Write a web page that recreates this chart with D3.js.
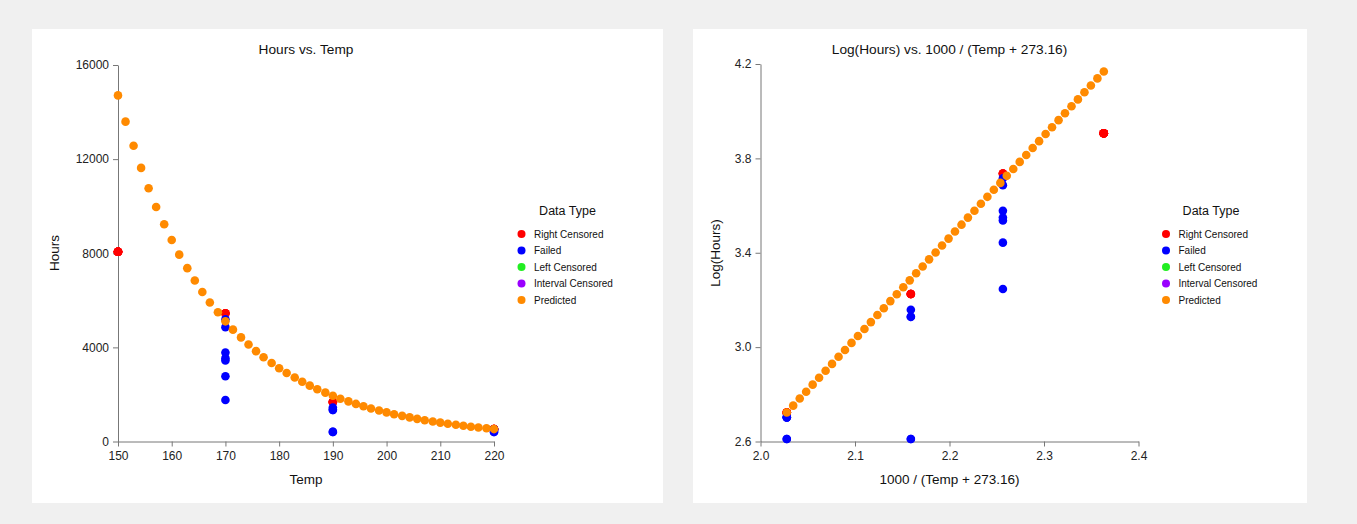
<!DOCTYPE html>
<html><head><meta charset="utf-8">
<script src="https://cdn.jsdelivr.net/npm/d3@7/dist/d3.min.js"></script>
<style>body{margin:0;background:#f0f0f0;}svg{display:block;font-family:"Liberation Sans",Arial,sans-serif;}</style>
</head><body>
<svg id="c" width="1357" height="524"></svg>
<script>
// ---------- data ----------
const rightCensoredTemp  = [150,150,150,150,150,150,150,150,150,150,170,170,170,190,190,190,190,190,220,220,220,220,220];
const rightCensoredHours = [8064,8064,8064,8064,8064,8064,8064,8064,8064,8064,5448,5448,5448,1680,1680,1680,1680,1680,528,528,528,528,528];
const failedTemp  = [170,170,170,170,170,170,170,190,190,190,190,190,220,220,220,220,220];
const failedHours = [1764,2772,3444,3542,3780,4860,5196,408,408,1344,1344,1440,408,408,504,504,504];
const predTemp = [150.0,151.4,152.9,154.3,155.7,157.1,158.6,160.0,161.4,162.9,164.3,165.7,167.1,168.6,170.0,171.4,172.9,174.3,175.7,177.1,178.6,180.0,181.4,182.9,184.3,185.7,187.1,188.6,190.0,191.4,192.9,194.3,195.7,197.1,198.6,200.0,201.4,202.9,204.3,205.7,207.1,208.6,210.0,211.4,212.9,214.3,215.7,217.1,218.6,220.0];
const predHours = [14708,13593,12570,11627,10762,9966,9235,8561,7940,7367,6839,6353,5904,5490,5107,4753,4424,4121,3840,3580,3339,3116,2909,2717,2538,2373,2219,2077,1944,1819,1704,1597,1497,1404,1317,1236,1160,1090,1024,962,905,851,801,754,710,669,630,594,560,528];
const rcInvTemp = [2.3632,2.3632,2.3632,2.3632,2.3632,2.3632,2.3632,2.3632,2.3632,2.3632,2.2565,2.2565,2.2565,2.1591,2.1591,2.1591,2.1591,2.1591,2.0278,2.0278,2.0278,2.0278,2.0278];
const rcLogHours = [3.9066,3.9066,3.9066,3.9066,3.9066,3.9066,3.9066,3.9066,3.9066,3.9066,3.7362,3.7362,3.7362,3.2253,3.2253,3.2253,3.2253,3.2253,2.7226,2.7226,2.7226,2.7226,2.7226];
const fInvTemp = [2.2565,2.2565,2.2565,2.2565,2.2565,2.2565,2.2565,2.1591,2.1591,2.1591,2.1591,2.1591,2.0278,2.0278,2.0278,2.0278,2.0278];
const fLogHours = [3.2465,3.4428,3.5370,3.5493,3.5775,3.6866,3.7157,2.6107,2.6107,3.1284,3.1284,3.1584,2.6107,2.6107,2.7024,2.7024,2.7024];
const predInvTemp = [2.0278,2.0346,2.0415,2.0483,2.0552,2.0620,2.0689,2.0757,2.0826,2.0894,2.0963,2.1031,2.1100,2.1168,2.1237,2.1305,2.1374,2.1442,2.1511,2.1579,2.1647,2.1716,2.1784,2.1853,2.1921,2.1990,2.2058,2.2127,2.2195,2.2264,2.2332,2.2401,2.2469,2.2538,2.2606,2.2675,2.2743,2.2812,2.2880,2.2948,2.3017,2.3085,2.3154,2.3222,2.3291,2.3359,2.3428,2.3496,2.3565,2.3633];
const predLogHours = [2.723,2.752,2.782,2.811,2.841,2.870,2.900,2.929,2.959,2.988,3.018,3.047,3.077,3.106,3.136,3.165,3.195,3.224,3.254,3.283,3.313,3.342,3.372,3.401,3.431,3.460,3.490,3.519,3.549,3.578,3.608,3.637,3.667,3.696,3.726,3.755,3.785,3.814,3.844,3.873,3.903,3.932,3.962,3.991,4.021,4.050,4.080,4.109,4.139,4.168];
const legendLabels = ["Right Censored","Failed","Left Censored","Interval Censored","Predicted"];
const legendColors = ["#ff0000","#0000ff","#22ee22","#9a00ff","#ff8a00"];
const leftXTicks = [150,160,170,180,190,200,210,220];
const leftYTicks = [0,4000,8000,12000,16000];
const rightXTicks = [2.0,2.1,2.2,2.3,2.4];
const rightYTicks = [2.6,3.0,3.4,3.8,4.2];

const svg = d3.select("#c");
const R = 4.3;

function panel(cfg){
  svg.append("rect").attr("x",cfg.px).attr("y",29).attr("width",cfg.pw).attr("height",474).attr("fill","#fff");
  const x = d3.scaleLinear().domain(cfg.xd).range(cfg.xr);
  const y = d3.scaleLinear().domain(cfg.yd).range(cfg.yr);
  const g = svg.append("g");
  const xa = g.append("g").attr("transform",`translate(0,${cfg.yr[0]})`)
    .call(d3.axisBottom(x).tickValues(cfg.xt).tickFormat(cfg.xf).tickSize(5).tickSizeOuter(0));
  const ya = g.append("g").attr("transform",`translate(${cfg.xr[0]},0)`)
    .call(d3.axisLeft(y).tickValues(cfg.yt).tickFormat(cfg.yf).tickSize(5).tickSizeOuter(0));
  [xa,ya].forEach(a=>{
    a.selectAll("path,line").attr("stroke","#777");
    a.selectAll("text").attr("fill","#222").style("font-size","12px");
  });
  xa.selectAll("text").attr("dy","0.9em");
  ya.selectAll("text").attr("x",-9);
  // titles
  g.append("text").attr("x",(cfg.xr[0]+cfg.xr[1])/2).attr("y",54).attr("text-anchor","middle").style("font-size","13.7px").attr("fill","#111").text(cfg.title);
  g.append("text").attr("x",(cfg.xr[0]+cfg.xr[1])/2).attr("y",484).attr("text-anchor","middle").style("font-size","13.5px").attr("fill","#111").text(cfg.xlabel);
  g.append("text").attr("transform",`translate(${cfg.ylx},253) rotate(-90)`).attr("text-anchor","middle").style("font-size","13.5px").attr("fill","#111").text(cfg.ylabel);
  const series = [
    [cfg.rcX,cfg.rcY,legendColors[0]],
    [cfg.fX,cfg.fY,legendColors[1]],
    [cfg.pX,cfg.pY,legendColors[4]]
  ];
  series.forEach(([xs,ys,col])=>{
    g.append("g").selectAll("circle").data(xs.map((v,i)=>[v,ys[i]])).join("circle")
      .attr("cx",d=>x(d[0])).attr("cy",d=>y(d[1])).attr("r",R).attr("fill",col);
  });
  // legend
  const lg = g.append("g");
  lg.append("text").attr("x",cfg.lgTitleX).attr("y",215).attr("text-anchor","middle").style("font-size","12.5px").attr("fill","#111").text("Data Type");
  legendLabels.forEach((lab,i)=>{
    const yy = 234 + i*16.5;
    lg.append("circle").attr("cx",cfg.lgX).attr("cy",yy).attr("r",4).attr("fill",legendColors[i]);
    lg.append("text").attr("x",cfg.lgX+12.5).attr("y",yy+3.6).style("font-size","10px").attr("fill","#111").text(lab);
  });
}

panel({px:32,pw:631,xd:[150,220],xr:[118,494],yd:[0,16000],yr:[441.5,65],
  xt:leftXTicks,yt:leftYTicks,xf:d3.format("d"),yf:d3.format("d"),
  title:"Hours vs. Temp",xlabel:"Temp",ylabel:"Hours",ylx:59,
  rcX:rightCensoredTemp,rcY:rightCensoredHours,fX:failedTemp,fY:failedHours,pX:predTemp,pY:predHours,
  lgTitleX:567.5,lgX:521.5});
panel({px:693,pw:614,xd:[2.0,2.4],xr:[760.5,1138.5],yd:[2.6,4.2],yr:[441.5,64],
  xt:rightXTicks,yt:rightYTicks,xf:d3.format(".1f"),yf:d3.format(".1f"),
  title:"Log(Hours) vs. 1000 / (Temp + 273.16)",xlabel:"1000 / (Temp + 273.16)",ylabel:"Log(Hours)",ylx:720,
  rcX:rcInvTemp,rcY:rcLogHours,fX:fInvTemp,fY:fLogHours,pX:predInvTemp,pY:predLogHours,
  lgTitleX:1211,lgX:1166});
</script>
</body></html>
